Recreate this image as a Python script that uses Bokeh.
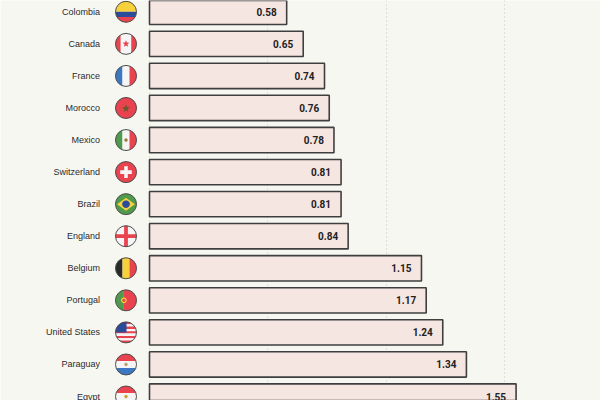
import math
from bokeh.plotting import figure
from bokeh.models import ColumnDataSource, Range1d, Grid, FixedTicker
from bokeh.core.properties import value
from bokeh.embed import file_html
from bokeh.resources import INLINE

# ---------------- data ----------------
countries = ["Colombia", "Canada", "France", "Morocco", "Mexico", "Switzerland",
             "Brazil", "England", "Belgium", "Portugal", "United States",
             "Paraguay", "Egypt"]
values = [0.58, 0.65, 0.74, 0.76, 0.78, 0.81, 0.81, 0.84, 1.15, 1.17, 1.24, 1.34, 1.55]
grid_ticks = [0.0, 0.5, 1.0, 1.5]

# ---------------- style ----------------
BG = "#f7f7f2"
BAR = "#f6e6e2"
EDGE = "#3f3f3f"
RED = "#e8434f"
WHITE = "#f5f5f5"
BLUE = "#3c78c2"
DBLUE = "#2b4b9b"
YEL = "#f6d13b"
GREEN = "#4f9a4c"
BLACK = "#2a2a2a"
GOLD = "#c9a237"

W, H = 600, 400
PX_X = 236.5      # pixels per unit of x
PX_Y = 32.06      # pixels per row
X0 = -149 / PX_X
Y_TOP = -11.3 / PX_Y
LABEL_X = (99.5 - 149) / PX_X
FLAG_X = (125.5 - 149) / PX_X
FLAG_R = 10.5

rows = list(range(len(countries)))
src = ColumnDataSource(dict(
    row=rows, country=countries, value=values,
    label=["%.2f" % v for v in values],
))

p = figure(width=W, height=H,
           x_range=Range1d(X0, X0 + W / PX_X),
           y_range=Range1d(Y_TOP + H / PX_Y, Y_TOP),
           output_backend="svg", toolbar_location=None,
           x_axis_location=None, y_axis_location=None,
           min_border=0, background_fill_color=BG, border_fill_color=BG,
           outline_line_color=None)
p.xgrid.visible = False
p.ygrid.visible = False
p.add_layout(Grid(dimension=0, ticker=FixedTicker(ticks=grid_ticks),
                  grid_line_color="#c6c6c0", grid_line_dash="1 3",
                  grid_line_width=1))

p.hbar(y="row", left=0, right="value", height=0.79, source=src,
       fill_color=BAR, line_color=EDGE, line_width=1.6)

p.text(x=LABEL_X, y="row", text="country", source=src,
       text_align="right", text_baseline="middle",
       text_font=value("Liberation Sans"), text_font_size="9px",
       text_color="#2b2b2b")

p.text(x="value", y="row", text="label", source=src, x_offset=-10,
       text_align="right", text_baseline="middle",
       text_font=value("Roboto"), text_font_style="bold",
       text_font_size="10px", text_color="#222222")

# ---------------- flags (geometry built from simple shapes) ----------------
def circle_poly(n=64):
    return [(math.cos(2 * math.pi * k / n), math.sin(2 * math.pi * k / n)) for k in range(n)]

CIRC = circle_poly()

def clip(subject, clipper):
    def inside(pt, a, b):
        return (b[0] - a[0]) * (pt[1] - a[1]) - (b[1] - a[1]) * (pt[0] - a[0]) >= 0

    def inter(s, e, a, b):
        dx1, dy1 = e[0] - s[0], e[1] - s[1]
        dx2, dy2 = b[0] - a[0], b[1] - a[1]
        den = dx1 * dy2 - dy1 * dx2
        if den == 0:
            return e
        t = ((a[0] - s[0]) * dy2 - (a[1] - s[1]) * dx2) / den
        return (s[0] + t * dx1, s[1] + t * dy1)

    out = subject
    for i in range(len(clipper)):
        a, b = clipper[i], clipper[(i + 1) % len(clipper)]
        inp, out = out, []
        if not inp:
            break
        s = inp[-1]
        for e in inp:
            if inside(e, a, b):
                if not inside(s, a, b):
                    out.append(inter(s, e, a, b))
                out.append(e)
            elif inside(s, a, b):
                out.append(inter(s, e, a, b))
            s = e
    return out

def rect(x0, x1, y0, y1, c):
    return ([(x0, y0), (x1, y0), (x1, y1), (x0, y1)], c)

def disc(cx, cy, r, c, n=24):
    return ([(cx + r * math.cos(2 * math.pi * k / n), cy + r * math.sin(2 * math.pi * k / n)) for k in range(n)], c)

def star(cx, cy, r, c):
    pts = []
    for k in range(10):
        rr = r if k % 2 == 0 else r * 0.42
        a = math.pi / 2 + k * math.pi / 5
        pts.append((cx + rr * math.cos(a), cy + rr * math.sin(a)))
    return (pts, c)

def vstripes(colors, weights=None):
    weights = weights or [1] * len(colors)
    tot = float(sum(weights))
    out, x = [], -1.0
    for c, w in zip(colors, weights):
        nx = x + 2 * w / tot
        out.append(rect(x, nx, -1.2, 1.2, c))
        x = nx
    return out

def hstripes(colors, weights=None):
    weights = weights or [1] * len(colors)
    tot = float(sum(weights))
    out, y = [], 1.0
    for c, w in zip(colors, weights):
        ny = y - 2 * w / tot
        out.append(rect(-1.2, 1.2, ny, y, c))
        y = ny
    return out

FULL = lambda c: rect(-1.2, 1.2, -1.2, 1.2, c)

flags = {
    "Colombia": hstripes([YEL, DBLUE, RED], [2, 1, 1]),
    "Canada": vstripes([RED, WHITE, RED], [1, 2, 1]) + [star(0, 0, 0.35, RED)],
    "France": vstripes([BLUE, WHITE, RED]),
    "Morocco": [FULL(RED), star(0, -0.05, 0.4, "#6b5a2a")],
    "Mexico": vstripes([GREEN, WHITE, RED]) + [disc(0, 0, 0.16, "#9a7a3a")],
    "Switzerland": [FULL(RED), rect(-0.55, 0.55, -0.17, 0.17, WHITE),
                    rect(-0.17, 0.17, -0.55, 0.55, WHITE)],
    "Brazil": [FULL(GREEN), ([(-0.85, 0), (0, 0.62), (0.85, 0), (0, -0.62)], YEL),
               disc(0, 0, 0.36, DBLUE)],
    "England": [FULL(WHITE), rect(-1.2, 1.2, -0.18, 0.18, RED),
                rect(-0.18, 0.18, -1.2, 1.2, RED)],
    "Belgium": vstripes([BLACK, YEL, RED]),
    "Portugal": vstripes([GREEN, RED], [2, 3]) + [disc(-0.2, 0, 0.27, YEL), disc(-0.2, 0, 0.15, RED)],
    "United States": hstripes([RED, WHITE] * 4 + [RED]) + [rect(-1.2, 0.05, 0.0, 1.2, DBLUE)],
    "Paraguay": hstripes([RED, WHITE, BLUE]) + [disc(0, 0, 0.16, "#b8a06a")],
    "Egypt": hstripes([RED, WHITE, BLACK]) + [disc(0, 0, 0.16, GOLD)],
}

fx, fy, fc = [], [], []
for i, name in enumerate(countries):
    for poly, col in flags[name]:
        cp = clip(poly, CIRC)
        if len(cp) < 3:
            continue
        fx.append([FLAG_X + FLAG_R * u / PX_X for u, _ in cp])
        fy.append([i - FLAG_R * v / PX_Y for _, v in cp])
        fc.append(col)

p.patches(xs=fx, ys=fy, fill_color=fc, line_color=None)
p.scatter(x=FLAG_X, y="row", source=src, size=2 * FLAG_R, marker="circle",
          fill_color=None, line_color="#4d4d4d", line_width=1)

open("out.html", "w").write(file_html(p, INLINE))
